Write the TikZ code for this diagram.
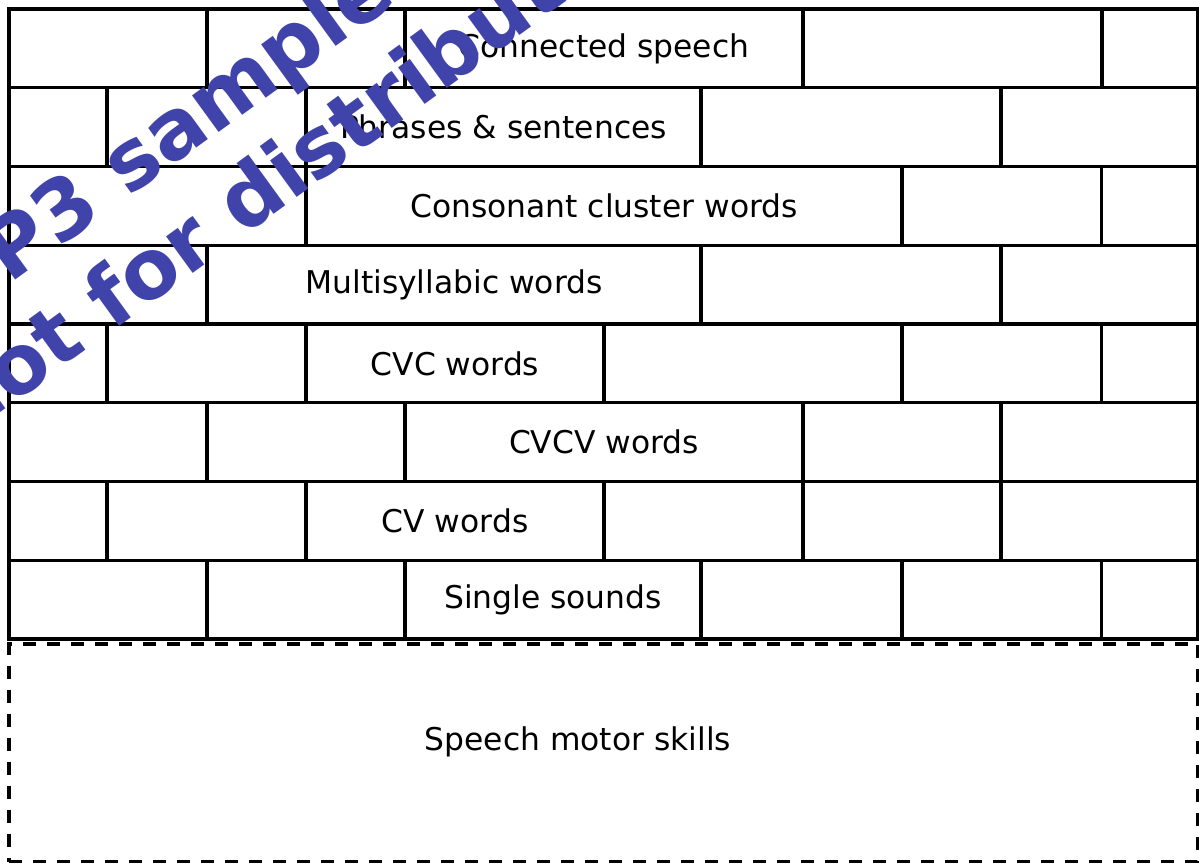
\documentclass[tikz,border=0pt]{standalone}
\usepackage{fontspec}
\setmainfont{DejaVu Sans}
\usetikzlibrary{fit}
\definecolor{wmblue}{RGB}{64,68,170}
\begin{document}
\begin{tikzpicture}[x=0.75pt,y=-0.75pt,
  brick/.style={draw=black, line width=2.5pt, inner sep=0pt},
  basebox/.style={draw=black, line width=2.8pt, dash pattern=on 9.75pt off 8.25pt, inner sep=0pt},
  lbl/.style={font=\fontsize{23.5}{28}\selectfont, inner sep=0pt},
  wm/.style={text=wmblue, font=\bfseries\fontsize{62}{70}\selectfont, rotate=36, anchor=base west, inner sep=0pt}]
\useasboundingbox (0,0) rectangle (1199,864);
% row 1
\node[brick, fit={(9,9)(207,87.75)}] (r1a) {};
\node[brick, fit={(207,9)(405,87.75)}] (r1b) {};
\node[brick, fit={(405,9)(803,87.75)}] (r1c) {};
\node[brick, fit={(803,9)(1102,87.75)}] (r1d) {};
\node[brick, fit={(1102,9)(1197.5,87.75)}] (r1e) {};
% row 2
\node[brick, fit={(9,87.75)(107,166.5)}] (r2a) {};
\node[brick, fit={(107,87.75)(306,166.5)}] (r2b) {};
\node[brick, fit={(306,87.75)(701,166.5)}] (r2c) {};
\node[brick, fit={(701,87.75)(1001,166.5)}] (r2d) {};
\node[brick, fit={(1001,87.75)(1197.5,166.5)}] (r2e) {};
% row 3
\node[brick, fit={(9,166.5)(306,245.25)}] (r3a) {};
\node[brick, fit={(306,166.5)(902,245.25)}] (r3b) {};
\node[brick, fit={(902,166.5)(1101.5,245.25)}] (r3c) {};
\node[brick, fit={(1101.5,166.5)(1197.5,245.25)}] (r3d) {};
% row 4
\node[brick, fit={(9,245.25)(207,324)}] (r4a) {};
\node[brick, fit={(207,245.25)(701,324)}] (r4b) {};
\node[brick, fit={(701,245.25)(1001,324)}] (r4c) {};
\node[brick, fit={(1001,245.25)(1197.5,324)}] (r4d) {};
% row 5
\node[brick, fit={(9,324)(107,402.75)}] (r5a) {};
\node[brick, fit={(107,324)(306,402.75)}] (r5b) {};
\node[brick, fit={(306,324)(604,402.75)}] (r5c) {};
\node[brick, fit={(604,324)(902,402.75)}] (r5d) {};
\node[brick, fit={(902,324)(1101.5,402.75)}] (r5e) {};
\node[brick, fit={(1101.5,324)(1197.5,402.75)}] (r5f) {};
% row 6
\node[brick, fit={(9,402.75)(207,481.5)}] (r6a) {};
\node[brick, fit={(207,402.75)(405,481.5)}] (r6b) {};
\node[brick, fit={(405,402.75)(803,481.5)}] (r6c) {};
\node[brick, fit={(803,402.75)(1001,481.5)}] (r6d) {};
\node[brick, fit={(1001,402.75)(1197.5,481.5)}] (r6e) {};
% row 7
\node[brick, fit={(9,481.5)(107,560.25)}] (r7a) {};
\node[brick, fit={(107,481.5)(306,560.25)}] (r7b) {};
\node[brick, fit={(306,481.5)(604,560.25)}] (r7c) {};
\node[brick, fit={(604,481.5)(803,560.25)}] (r7d) {};
\node[brick, fit={(803,481.5)(1001,560.25)}] (r7e) {};
\node[brick, fit={(1001,481.5)(1197.5,560.25)}] (r7f) {};
% row 8
\node[brick, fit={(9,560.25)(207,639)}] (r8a) {};
\node[brick, fit={(207,560.25)(405,639)}] (r8b) {};
\node[brick, fit={(405,560.25)(701,639)}] (r8c) {};
\node[brick, fit={(701,560.25)(902,639)}] (r8d) {};
\node[brick, fit={(902,560.25)(1101.5,639)}] (r8e) {};
\node[brick, fit={(1101.5,560.25)(1197.5,639)}] (r8f) {};
% labels
\node[lbl] (t1) at (r1c.center) {Connected speech};
\node[lbl] (t2) at (r2c.center) {Phrases \& sentences};
\node[lbl] (t3) at (r3b.center) {Consonant cluster words};
\node[lbl] (t4) at (r4b.center) {Multisyllabic words};
\node[lbl] (t5) at (r5c.center) {CVC words};
\node[lbl] (t6) at (r6c.center) {CVCV words};
\node[lbl] (t7) at (r7c.center) {CV words};
\node[lbl] (t8) at (r8c.center) {Single sounds};
% base
\node[basebox, fit={(9,644)(1197.5,861.5)}] (base) {};
\node[lbl] (baselbl) at (578,742) {Speech motor skills};
% watermark
\begin{scope}
\clip (0,0) rectangle (1199,864);
\node[wm] (wm1) at (128,198) {\llap{OP3 }sample -};
\node[wm] (wm2) at (112,332) {\llap{not }for distribution};
\end{scope}
\end{tikzpicture}
\end{document}
